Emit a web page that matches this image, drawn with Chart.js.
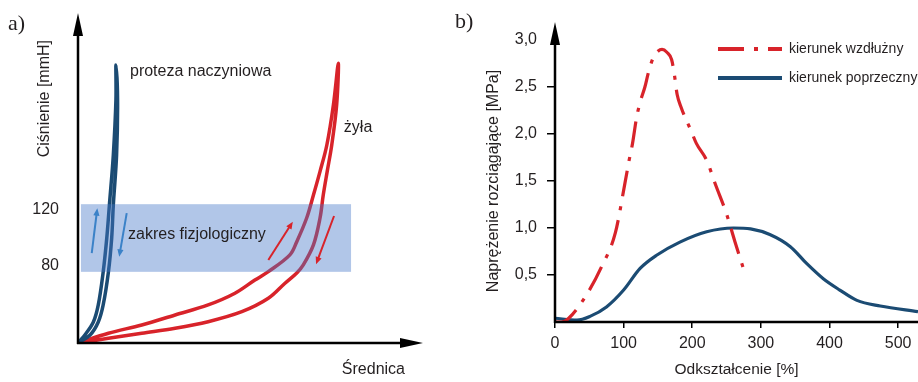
<!DOCTYPE html>
<html>
<head>
<meta charset="utf-8">
<script src="https://cdn.jsdelivr.net/npm/chart.js@4.4.1/dist/chart.umd.min.js"></script>
<style>
  body { margin: 0; width: 918px; height: 382px; position: relative; overflow: hidden; background: #fff; }
  .panel { position: absolute; top: 0; height: 382px; }
  .tag { position: absolute; font-family: 'Liberation Serif', 'DejaVu Serif', serif; font-size: 22px; color: #231f20; }
</style>
</head>
<body>
<div class="panel" style="left:0; width:440px"><canvas id="chartA"></canvas></div>
<div class="panel" style="left:440px; width:478px"><canvas id="chartB"></canvas></div>
<div class="tag" style="left:8px; top:10px">a)</div>
<div class="tag" style="left:455px; top:8px">b)</div>
<script>
// ---- panel a data (schematic: diameter in arbitrary units, pressure in mmHg) ----
const pressureTicks = [80, 120];
const bandRange = [75.5, 123.5];

// vessel prosthesis loop: up along one branch, back down the other
const protezaX = [0, 2.1, 4.7, 6.2, 7.7, 8.8, 9.6, 10.8, 11.6, 11.6, 12.1, 11.8, 10.8, 10.3, 9.3, 7.7, 6.2, 3.7, 0];
const protezaY = [25, 30.7, 39.9, 52, 75.4, 99.5, 122.9, 158.4, 197.5, 222.3, 197.5, 158.4, 122.9, 99.5, 75.4, 52, 39.9, 30.7, 25];

// vein loop
const zylaX = [0, 9.3, 19.5, 29.7, 39.8, 48.0, 54.1, 58.2, 64.8, 66.9, 69.9, 72.0, 74.0, 76.1, 78.1, 79.6,
               79.1, 77.6, 76.2, 75.0, 74.0, 72.0, 68.9, 66.9, 63.3, 58.2, 50.1, 39.8, 29.7, 19.5, 9.3, 0];
const zylaY = [25, 31.9, 37.8, 44.9, 52.0, 60.3, 69.7, 75.6, 87.5, 96.9, 113.5, 130.0, 146.6, 165.5, 193.9, 223.5,
               193.9, 165.5, 146.6, 130.0, 113.5, 94.6, 80.4, 74.7, 67.4, 56.7, 47.2, 40.1, 35.4, 31.9, 28.3, 25];

// direction arrows [x0, y0, x1, y1]
const blueArrows = [[4.2, 88.7, 5.9, 120.6], [14.9, 117.1, 12.6, 86.2]];
const redArrows = [[58.2, 83.9, 65.7, 111.1], [78.3, 115.1, 72.8, 80.9]];

// text notes [text, x, y(baseline)]
const notesA = [
  ['proteza naczyniowa', 15.9, 214.5],
  ['żyła', 81.3, 175],
  ['zakres fizjologiczny', 15.3, 98.8]
];

// ---- panel b data ----
const strainTicks = [0, 100, 200, 300, 400, 500];
const wzdluznyX = [0, 10, 20, 46, 68, 88, 102, 108, 113, 119, 125, 131, 136, 143, 150, 156, 163, 170, 174, 178,
                   184, 190, 198, 206, 221, 234, 250, 262, 278];
const wzdluznyY = [0.0, 0.0, 0.04, 0.29, 0.59, 0.95, 1.48, 1.72, 1.90, 2.18, 2.36, 2.50, 2.65, 2.81, 2.88, 2.90, 2.87, 2.79, 2.63, 2.42,
                   2.28, 2.17, 2.04, 1.90, 1.72, 1.46, 1.15, 0.86, 0.49];
const poprzecznyX = [0, 32, 51, 75, 100, 124, 148, 182, 221, 260, 285, 313, 343, 367, 391, 415, 440, 474, 529];
const poprzecznyY = [0.04, 0.02, 0.06, 0.16, 0.34, 0.57, 0.71, 0.85, 0.96, 1.00, 0.99, 0.93, 0.80, 0.62, 0.46, 0.34, 0.23, 0.17, 0.11];

const RED = '#d8232a';
const NAVY = '#1b4b73';
const ARROW_BLUE = '#3b82c8';
const TEXT = '#231f20';

Chart.defaults.font.family = "'Liberation Sans', Arial, sans-serif";
Chart.defaults.color = TEXT;

function pts(xs, ys) {
  return xs.map((x, i) => ({ x: x, y: ys[i] }));
}

function arrow(ctx, x0, y0, x1, y1, color, w, head) {
  const ang = Math.atan2(y1 - y0, x1 - x0);
  ctx.save();
  ctx.strokeStyle = color;
  ctx.fillStyle = color;
  ctx.lineWidth = w;
  ctx.beginPath();
  ctx.moveTo(x0, y0);
  ctx.lineTo(x1 - Math.cos(ang) * head * 0.8, y1 - Math.sin(ang) * head * 0.8);
  ctx.stroke();
  ctx.beginPath();
  ctx.moveTo(x1, y1);
  ctx.lineTo(x1 - head * Math.cos(ang - 0.4), y1 - head * Math.sin(ang - 0.4));
  ctx.lineTo(x1 - head * Math.cos(ang + 0.4), y1 - head * Math.sin(ang + 0.4));
  ctx.closePath();
  ctx.fill();
  ctx.restore();
}

// axis lines with arrow heads
const axisArrows = {
  id: 'axisArrows',
  afterDraw(chart, args, opts) {
    const { ctx, chartArea: ca } = chart;
    ctx.save();
    ctx.strokeStyle = '#000';
    ctx.fillStyle = '#000';
    ctx.lineWidth = 2.5;
    ctx.lineCap = 'butt';
    const yTip = ca.top - opts.yExtra;
    ctx.beginPath();
    ctx.moveTo(ca.left, ca.bottom + 1);
    ctx.lineTo(ca.left, yTip + 20);
    ctx.stroke();
    ctx.beginPath();
    ctx.moveTo(ca.left, yTip);
    ctx.lineTo(ca.left - 5, yTip + 23);
    ctx.lineTo(ca.left + 5, yTip + 23);
    ctx.closePath();
    ctx.fill();
    const xEnd = opts.xArrow ? ca.right + opts.xExtra : chart.width;
    ctx.beginPath();
    ctx.moveTo(ca.left - 1, ca.bottom);
    ctx.lineTo(opts.xArrow ? xEnd - 20 : xEnd, ca.bottom);
    ctx.stroke();
    if (opts.xArrow) {
      ctx.beginPath();
      ctx.moveTo(xEnd, ca.bottom);
      ctx.lineTo(xEnd - 23, ca.bottom - 5);
      ctx.lineTo(xEnd - 23, ca.bottom + 5);
      ctx.closePath();
      ctx.fill();
    }
    ctx.restore();
  }
};

// physiological band, direction arrows and notes
const bandNotes = {
  id: 'bandNotes',
  afterDatasetsDraw(chart) {
    const { ctx, scales: { x, y } } = chart;
    ctx.save();
    ctx.fillStyle = 'rgba(70,120,200,0.42)';
    const top = y.getPixelForValue(bandRange[1]);
    const bot = y.getPixelForValue(bandRange[0]);
    ctx.fillRect(x.getPixelForValue(0.9), top, x.getPixelForValue(83.5) - x.getPixelForValue(0.9), bot - top);
    blueArrows.forEach(a => arrow(ctx, x.getPixelForValue(a[0]), y.getPixelForValue(a[1]),
      x.getPixelForValue(a[2]), y.getPixelForValue(a[3]), ARROW_BLUE, 2, 8));
    redArrows.forEach(a => arrow(ctx, x.getPixelForValue(a[0]), y.getPixelForValue(a[1]),
      x.getPixelForValue(a[2]), y.getPixelForValue(a[3]), RED, 2, 8));
    ctx.fillStyle = TEXT;
    ctx.font = "16px 'Liberation Sans', Arial, sans-serif";
    ctx.textBaseline = 'alphabetic';
    ctx.textAlign = 'left';
    notesA.forEach(n => ctx.fillText(n[0], x.getPixelForValue(n[1]), y.getPixelForValue(n[2])));
    ctx.restore();
  }
};

// legend drawn with line samples
const lineLegend = {
  id: 'lineLegend',
  afterDraw(chart) {
    const { ctx, chartArea: ca } = chart;
    ctx.save();
    chart.data.datasets.forEach((ds, i) => {
      const yy = ca.top + 9 + i * 29;
      const x0 = ca.left + 163;
      ctx.strokeStyle = ds.borderColor;
      ctx.lineWidth = 4;
      ctx.setLineDash(ds.borderDash || []);
      ctx.beginPath();
      ctx.moveTo(x0, yy);
      ctx.lineTo(x0 + 64, yy);
      ctx.stroke();
      ctx.setLineDash([]);
      ctx.fillStyle = TEXT;
      ctx.font = "14px 'Liberation Sans', Arial, sans-serif";
      ctx.textBaseline = 'middle';
      ctx.fillText(ds.label, x0 + 71, yy);
    });
    ctx.restore();
  }
};

// PANEL A
new Chart(document.getElementById('chartA'), {
  type: 'scatter',
  data: {
    datasets: [
      { label: 'proteza naczyniowa', data: pts(protezaX, protezaY), borderColor: NAVY, borderWidth: 3.5 },
      { label: 'żyła', data: pts(zylaX, zylaY), borderColor: RED, borderWidth: 3.5 }
    ]
  },
  options: {
    responsive: true,
    maintainAspectRatio: false,
    animation: false,
    showLine: true,
    elements: {
      point: { radius: 0, hoverRadius: 0 },
      line: { tension: 0.35, borderCapStyle: 'round', borderJoinStyle: 'round' }
    },
    layout: { padding: { top: 40, right: 35, bottom: 0, left: 0 } },
    scales: {
      x: {
        type: 'linear', min: 0, max: 100,
        grid: { display: false }, border: { display: false },
        ticks: { display: false },
        title: { display: true, text: 'Średnica', align: 'end', font: { size: 16 }, padding: { top: 0, bottom: 3 } },
        afterFit: s => { s.height = 39; }
      },
      y: {
        min: 25, max: 240,
        grid: { display: false }, border: { display: false },
        ticks: { padding: 11, font: { size: 16 } },
        afterBuildTicks: s => { s.ticks = pressureTicks.map(v => ({ value: v })); },
        title: { display: true, text: 'Ciśnienie [mmH]', align: 'end', font: { size: 16 }, padding: { top: 35, bottom: 0 } },
        afterFit: s => { s.width = 78; }
      }
    },
    plugins: {
      legend: { display: false },
      tooltip: { enabled: false },
      axisArrows: { yExtra: 27, xExtra: 18, xArrow: true }
    }
  },
  plugins: [bandNotes, axisArrows]
});

// PANEL B
new Chart(document.getElementById('chartB'), {
  type: 'scatter',
  data: {
    datasets: [
      { label: 'kierunek wzdłużny', data: pts(wzdluznyX, wzdluznyY), borderColor: RED, borderWidth: 3.2, borderDash: [26, 10, 4, 10] },
      { label: 'kierunek poprzeczny', data: pts(poprzecznyX, poprzecznyY), borderColor: NAVY, borderWidth: 3.2 }
    ]
  },
  options: {
    responsive: true,
    maintainAspectRatio: false,
    animation: false,
    showLine: true,
    elements: {
      point: { radius: 0, hoverRadius: 0 },
      line: { cubicInterpolationMode: 'monotone', borderCapStyle: 'butt' }
    },
    layout: { padding: { top: 40, right: 0, bottom: 0, left: 0 } },
    scales: {
      x: {
        type: 'linear', min: 0, max: 529,
        afterBuildTicks: s => { s.ticks = strainTicks.map(v => ({ value: v })); },
        grid: { drawOnChartArea: false, tickLength: 6, color: '#000', lineWidth: 1.5 },
        border: { display: false },
        ticks: { padding: 6, font: { size: 16 } },
        title: { display: true, text: 'Odkształcenie [%]', font: { size: 15.5 }, padding: { top: 0, bottom: 3 } },
        afterFit: s => { s.height = 60; }
      },
      y: {
        min: 0, max: 3,
        ticks: {
          stepSize: 0.5, padding: 10, font: { size: 16 },
          callback: v => v === 0 ? '' : v.toFixed(1).replace('.', ',')
        },
        grid: {
          drawOnChartArea: false, tickLength: 8, lineWidth: 1.5,
          color: c => (c.tick && (c.tick.value === 0 || c.tick.value === 3)) ? 'rgba(0,0,0,0)' : '#000'
        },
        border: { display: false },
        title: { display: true, text: 'Naprężenie rozciągające [MPa]', font: { size: 16 }, padding: { top: 44, bottom: 0 } },
        afterFit: s => { s.width = 115; }
      }
    },
    plugins: {
      legend: { display: false },
      tooltip: { enabled: false },
      axisArrows: { yExtra: 18, xExtra: 0, xArrow: false }
    }
  },
  plugins: [axisArrows, lineLegend]
});
</script>
</body>
</html>
